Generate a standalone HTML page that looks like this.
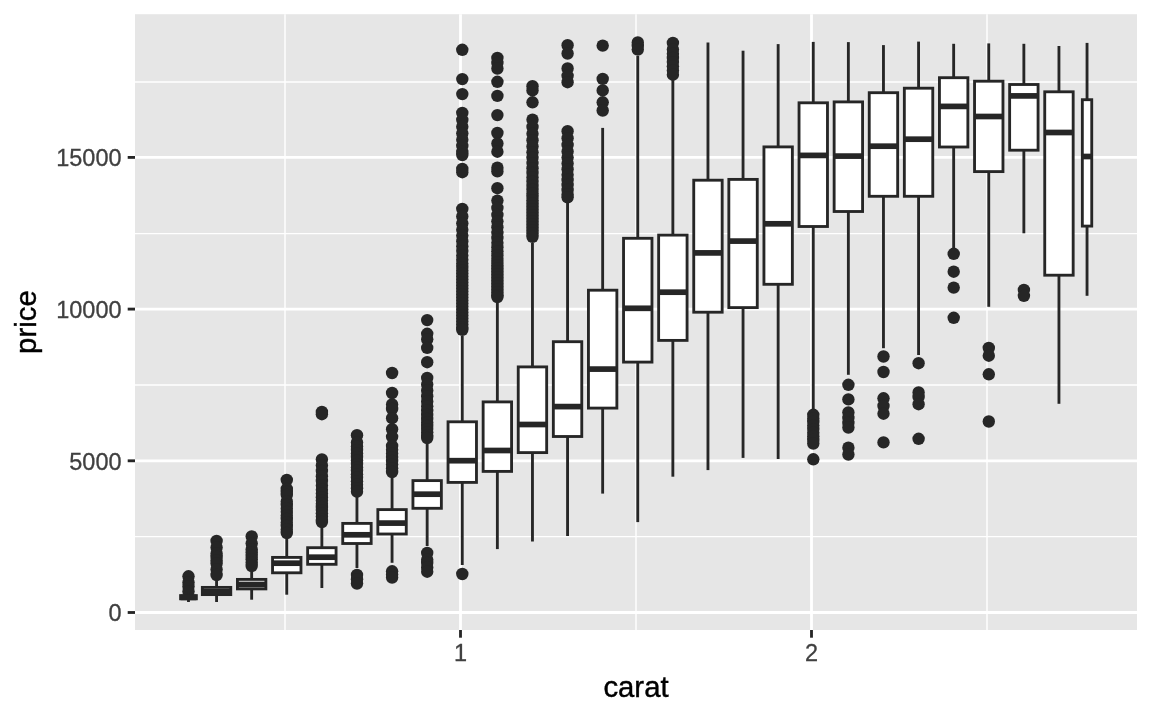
<!DOCTYPE html>
<html lang="en"><head><meta charset="utf-8"><title>price vs carat boxplot</title>
<style>html,body{margin:0;padding:0;background:#fff}body{width:1152px;height:711px;overflow:hidden}svg{display:block}text{font-family:"Liberation Sans",Arial,Helvetica,sans-serif}</style></head><body>
<svg width="1152" height="711" viewBox="0 0 1152 711">
<rect x="0" y="0" width="1152" height="711" fill="#ffffff"/>
<rect x="135.0" y="14.2" width="1002.0" height="615.8" fill="#E6E6E6"/>
<g stroke="#ffffff" stroke-width="1.42" fill="none">
<line x1="135.0" x2="1137.0" y1="536.65" y2="536.65"/>
<line x1="135.0" x2="1137.0" y1="384.95" y2="384.95"/>
<line x1="135.0" x2="1137.0" y1="233.60" y2="233.60"/>
<line x1="135.0" x2="1137.0" y1="81.95" y2="81.95"/>
<line y1="14.2" y2="630.0" x1="285.00" x2="285.00"/>
<line y1="14.2" y2="630.0" x1="636.00" x2="636.00"/>
<line y1="14.2" y2="630.0" x1="987.00" x2="987.00"/>
</g>
<g stroke="#ffffff" stroke-width="2.85" fill="none">
<line x1="135.0" x2="1137.0" y1="612.50" y2="612.50"/>
<line x1="135.0" x2="1137.0" y1="460.80" y2="460.80"/>
<line x1="135.0" x2="1137.0" y1="309.10" y2="309.10"/>
<line x1="135.0" x2="1137.0" y1="157.40" y2="157.40"/>
<line y1="14.2" y2="630.0" x1="460.50" x2="460.50"/>
<line y1="14.2" y2="630.0" x1="811.50" x2="811.50"/>
</g>
<g id="boxes" stroke="#262626" stroke-width="2.85" fill="#ffffff">
<g><g fill="#262626" stroke="none"><circle cx="188.5" cy="576.3" r="6.2"/><circle cx="188.5" cy="582.5" r="6.2"/><circle cx="188.5" cy="586.5" r="6.2"/><circle cx="188.5" cy="591.5" r="6.2"/></g><line x1="188.48" x2="188.48" y1="595.6" y2="592.0"/><line x1="188.48" x2="188.48" y1="598.8" y2="602.0"/><rect x="180.58" y="595.6" width="15.79" height="3.2"/><line x1="180.58" x2="196.37" y1="597.4" y2="597.4" stroke-width="5.7"/></g>
<g><g fill="#262626" stroke="none"><circle cx="216.6" cy="541.0" r="6.2"/><circle cx="216.6" cy="547.5" r="6.2"/><circle cx="216.6" cy="553.5" r="6.2"/><circle cx="216.6" cy="557.0" r="6.2"/><circle cx="216.6" cy="560.5" r="6.2"/><circle cx="216.6" cy="563.5" r="6.2"/><circle cx="216.6" cy="569.5" r="6.2"/><circle cx="216.6" cy="575.0" r="6.2"/></g><line x1="216.56" x2="216.56" y1="587.4" y2="581.0"/><line x1="216.56" x2="216.56" y1="594.6" y2="602.0"/><rect x="202.34" y="587.4" width="28.43" height="7.2"/><line x1="202.34" x2="230.77" y1="591.8" y2="591.8" stroke-width="5.7"/></g>
<g><g fill="#262626" stroke="none"><circle cx="251.7" cy="536.4" r="6.2"/><circle cx="251.7" cy="543.5" r="6.2"/><circle cx="251.7" cy="549.5" r="6.2"/><circle cx="251.7" cy="552.5" r="6.2"/><circle cx="251.7" cy="555.9" r="6.2"/><circle cx="251.7" cy="559.2" r="6.2"/><circle cx="251.7" cy="562.6" r="6.2"/><circle cx="251.7" cy="566.0" r="6.2"/></g><line x1="251.66" x2="251.66" y1="579.4" y2="572.0"/><line x1="251.66" x2="251.66" y1="588.9" y2="599.7"/><rect x="237.44" y="579.4" width="28.43" height="9.5"/><line x1="237.44" x2="265.87" y1="584.5" y2="584.5" stroke-width="5.7"/></g>
<g><g fill="#262626" stroke="none"><circle cx="286.8" cy="480.0" r="6.2"/><circle cx="286.8" cy="489.0" r="6.2"/><circle cx="286.8" cy="492.0" r="6.2"/><circle cx="286.8" cy="495.0" r="6.2"/><circle cx="286.8" cy="501.5" r="6.2"/><circle cx="286.8" cy="505.0" r="6.2"/><circle cx="286.8" cy="508.5" r="6.2"/><circle cx="286.8" cy="512.0" r="6.2"/><circle cx="286.8" cy="515.5" r="6.2"/><circle cx="286.8" cy="519.0" r="6.2"/><circle cx="286.8" cy="522.5" r="6.2"/><circle cx="286.8" cy="526.0" r="6.2"/><circle cx="286.8" cy="529.5" r="6.2"/><circle cx="286.8" cy="533.0" r="6.2"/></g><line x1="286.75" x2="286.75" y1="557.4" y2="539.0"/><line x1="286.75" x2="286.75" y1="572.8" y2="594.7"/><rect x="272.54" y="557.4" width="28.43" height="15.4"/><line x1="272.54" x2="300.97" y1="563.2" y2="563.2" stroke-width="5.7"/></g>
<g><g fill="#262626" stroke="none"><circle cx="321.9" cy="412.0" r="6.2"/><circle cx="321.9" cy="414.2" r="6.2"/><circle cx="321.9" cy="459.4" r="6.2"/><circle cx="321.9" cy="465.4" r="6.2"/><circle cx="321.9" cy="471.0" r="6.2"/><circle cx="321.9" cy="476.2" r="6.2"/><circle cx="321.9" cy="481.0" r="6.2"/><circle cx="321.9" cy="485.5" r="6.2"/><circle cx="321.9" cy="489.7" r="6.2"/><circle cx="321.9" cy="493.5" r="6.2"/><circle cx="321.9" cy="497.2" r="6.2"/><circle cx="321.9" cy="500.5" r="6.2"/><circle cx="321.9" cy="503.7" r="6.2"/><circle cx="321.9" cy="506.9" r="6.2"/><circle cx="321.9" cy="510.1" r="6.2"/><circle cx="321.9" cy="513.3" r="6.2"/><circle cx="321.9" cy="516.5" r="6.2"/><circle cx="321.9" cy="519.7" r="6.2"/><circle cx="321.9" cy="522.0" r="6.2"/></g><line x1="321.86" x2="321.86" y1="547.7" y2="528.0"/><line x1="321.86" x2="321.86" y1="564.3" y2="588.0"/><rect x="307.64" y="547.7" width="28.43" height="16.6"/><line x1="307.64" x2="336.07" y1="557.2" y2="557.2" stroke-width="5.7"/></g>
<g><g fill="#262626" stroke="none"><circle cx="357.0" cy="435.2" r="6.2"/><circle cx="357.0" cy="442.5" r="6.2"/><circle cx="357.0" cy="446.5" r="6.2"/><circle cx="357.0" cy="450.0" r="6.2"/><circle cx="357.0" cy="453.5" r="6.2"/><circle cx="357.0" cy="456.9" r="6.2"/><circle cx="357.0" cy="460.4" r="6.2"/><circle cx="357.0" cy="463.9" r="6.2"/><circle cx="357.0" cy="467.4" r="6.2"/><circle cx="357.0" cy="470.8" r="6.2"/><circle cx="357.0" cy="474.3" r="6.2"/><circle cx="357.0" cy="477.8" r="6.2"/><circle cx="357.0" cy="481.3" r="6.2"/><circle cx="357.0" cy="484.7" r="6.2"/><circle cx="357.0" cy="488.2" r="6.2"/><circle cx="357.0" cy="491.7" r="6.2"/><circle cx="357.0" cy="575.0" r="6.2"/><circle cx="357.0" cy="579.2" r="6.2"/><circle cx="357.0" cy="583.5" r="6.2"/></g><line x1="356.95" x2="356.95" y1="523.4" y2="497.0"/><line x1="356.95" x2="356.95" y1="543.5" y2="568.0"/><rect x="342.74" y="523.4" width="28.43" height="20.1"/><line x1="342.74" x2="371.17" y1="534.8" y2="534.8" stroke-width="5.7"/></g>
<g><g fill="#262626" stroke="none"><circle cx="392.1" cy="373.0" r="6.2"/><circle cx="392.1" cy="393.0" r="6.2"/><circle cx="392.1" cy="404.5" r="6.2"/><circle cx="392.1" cy="409.0" r="6.2"/><circle cx="392.1" cy="418.2" r="6.2"/><circle cx="392.1" cy="429.2" r="6.2"/><circle cx="392.1" cy="436.8" r="6.2"/><circle cx="392.1" cy="446.0" r="6.2"/><circle cx="392.1" cy="449.7" r="6.2"/><circle cx="392.1" cy="453.4" r="6.2"/><circle cx="392.1" cy="457.1" r="6.2"/><circle cx="392.1" cy="460.9" r="6.2"/><circle cx="392.1" cy="464.6" r="6.2"/><circle cx="392.1" cy="468.3" r="6.2"/><circle cx="392.1" cy="472.0" r="6.2"/><circle cx="392.1" cy="571.3" r="6.2"/><circle cx="392.1" cy="574.4" r="6.2"/><circle cx="392.1" cy="577.5" r="6.2"/></g><line x1="392.06" x2="392.06" y1="509.6" y2="478.0"/><line x1="392.06" x2="392.06" y1="534.0" y2="562.8"/><rect x="377.84" y="509.6" width="28.43" height="24.4"/><line x1="377.84" x2="406.27" y1="523.1" y2="523.1" stroke-width="5.7"/></g>
<g><g fill="#262626" stroke="none"><circle cx="427.2" cy="320.1" r="6.2"/><circle cx="427.2" cy="333.8" r="6.2"/><circle cx="427.2" cy="339.3" r="6.2"/><circle cx="427.2" cy="347.9" r="6.2"/><circle cx="427.2" cy="362.2" r="6.2"/><circle cx="427.2" cy="378.0" r="6.2"/><circle cx="427.2" cy="384.5" r="6.2"/><circle cx="427.2" cy="390.5" r="6.2"/><circle cx="427.2" cy="396.2" r="6.2"/><circle cx="427.2" cy="401.4" r="6.2"/><circle cx="427.2" cy="406.3" r="6.2"/><circle cx="427.2" cy="410.8" r="6.2"/><circle cx="427.2" cy="415.0" r="6.2"/><circle cx="427.2" cy="418.9" r="6.2"/><circle cx="427.2" cy="422.5" r="6.2"/><circle cx="427.2" cy="425.9" r="6.2"/><circle cx="427.2" cy="429.1" r="6.2"/><circle cx="427.2" cy="432.3" r="6.2"/><circle cx="427.2" cy="435.5" r="6.2"/><circle cx="427.2" cy="438.0" r="6.2"/><circle cx="427.2" cy="553.0" r="6.2"/><circle cx="427.2" cy="559.6" r="6.2"/><circle cx="427.2" cy="563.0" r="6.2"/><circle cx="427.2" cy="567.5" r="6.2"/><circle cx="427.2" cy="571.7" r="6.2"/></g><line x1="427.16" x2="427.16" y1="480.6" y2="444.0"/><line x1="427.16" x2="427.16" y1="508.3" y2="546.0"/><rect x="412.94" y="480.6" width="28.43" height="27.7"/><line x1="412.94" x2="441.37" y1="494.2" y2="494.2" stroke-width="5.7"/></g>
<g><g fill="#262626" stroke="none"><circle cx="462.3" cy="49.8" r="6.2"/><circle cx="462.3" cy="79.1" r="6.2"/><circle cx="462.3" cy="94.1" r="6.2"/><circle cx="462.3" cy="112.9" r="6.2"/><circle cx="462.3" cy="119.9" r="6.2"/><circle cx="462.3" cy="126.7" r="6.2"/><circle cx="462.3" cy="133.3" r="6.2"/><circle cx="462.3" cy="139.7" r="6.2"/><circle cx="462.3" cy="145.9" r="6.2"/><circle cx="462.3" cy="151.9" r="6.2"/><circle cx="462.3" cy="155.0" r="6.2"/><circle cx="462.3" cy="169.0" r="6.2"/><circle cx="462.3" cy="172.2" r="6.2"/><circle cx="462.3" cy="209.0" r="6.2"/><circle cx="462.3" cy="216.4" r="6.2"/><circle cx="462.3" cy="223.3" r="6.2"/><circle cx="462.3" cy="229.7" r="6.2"/><circle cx="462.3" cy="235.6" r="6.2"/><circle cx="462.3" cy="241.2" r="6.2"/><circle cx="462.3" cy="246.3" r="6.2"/><circle cx="462.3" cy="251.1" r="6.2"/><circle cx="462.3" cy="255.6" r="6.2"/><circle cx="462.3" cy="259.7" r="6.2"/><circle cx="462.3" cy="263.6" r="6.2"/><circle cx="462.3" cy="267.1" r="6.2"/><circle cx="462.3" cy="270.5" r="6.2"/><circle cx="462.3" cy="273.6" r="6.2"/><circle cx="462.3" cy="276.6" r="6.2"/><circle cx="462.3" cy="279.6" r="6.2"/><circle cx="462.3" cy="282.6" r="6.2"/><circle cx="462.3" cy="285.6" r="6.2"/><circle cx="462.3" cy="288.6" r="6.2"/><circle cx="462.3" cy="291.6" r="6.2"/><circle cx="462.3" cy="294.6" r="6.2"/><circle cx="462.3" cy="297.6" r="6.2"/><circle cx="462.3" cy="300.6" r="6.2"/><circle cx="462.3" cy="303.6" r="6.2"/><circle cx="462.3" cy="306.6" r="6.2"/><circle cx="462.3" cy="309.6" r="6.2"/><circle cx="462.3" cy="312.6" r="6.2"/><circle cx="462.3" cy="315.6" r="6.2"/><circle cx="462.3" cy="318.6" r="6.2"/><circle cx="462.3" cy="321.6" r="6.2"/><circle cx="462.3" cy="324.6" r="6.2"/><circle cx="462.3" cy="327.6" r="6.2"/><circle cx="462.3" cy="329.8" r="6.2"/><circle cx="462.3" cy="574.0" r="6.2"/></g><line x1="462.25" x2="462.25" y1="421.8" y2="336.0"/><line x1="462.25" x2="462.25" y1="482.4" y2="565.0"/><rect x="448.04" y="421.8" width="28.43" height="60.6"/><line x1="448.04" x2="476.47" y1="460.7" y2="460.7" stroke-width="5.7"/></g>
<g><g fill="#262626" stroke="none"><circle cx="497.4" cy="58.0" r="6.2"/><circle cx="497.4" cy="63.0" r="6.2"/><circle cx="497.4" cy="68.5" r="6.2"/><circle cx="497.4" cy="81.8" r="6.2"/><circle cx="497.4" cy="95.9" r="6.2"/><circle cx="497.4" cy="115.1" r="6.2"/><circle cx="497.4" cy="133.0" r="6.2"/><circle cx="497.4" cy="143.5" r="6.2"/><circle cx="497.4" cy="151.7" r="6.2"/><circle cx="497.4" cy="167.7" r="6.2"/><circle cx="497.4" cy="171.4" r="6.2"/><circle cx="497.4" cy="188.2" r="6.2"/><circle cx="497.4" cy="200.6" r="6.2"/><circle cx="497.4" cy="208.0" r="6.2"/><circle cx="497.4" cy="214.9" r="6.2"/><circle cx="497.4" cy="221.3" r="6.2"/><circle cx="497.4" cy="227.2" r="6.2"/><circle cx="497.4" cy="232.8" r="6.2"/><circle cx="497.4" cy="237.9" r="6.2"/><circle cx="497.4" cy="242.7" r="6.2"/><circle cx="497.4" cy="247.2" r="6.2"/><circle cx="497.4" cy="251.3" r="6.2"/><circle cx="497.4" cy="255.2" r="6.2"/><circle cx="497.4" cy="258.7" r="6.2"/><circle cx="497.4" cy="262.1" r="6.2"/><circle cx="497.4" cy="265.2" r="6.2"/><circle cx="497.4" cy="268.2" r="6.2"/><circle cx="497.4" cy="271.2" r="6.2"/><circle cx="497.4" cy="274.2" r="6.2"/><circle cx="497.4" cy="277.2" r="6.2"/><circle cx="497.4" cy="280.2" r="6.2"/><circle cx="497.4" cy="283.2" r="6.2"/><circle cx="497.4" cy="286.2" r="6.2"/><circle cx="497.4" cy="289.2" r="6.2"/><circle cx="497.4" cy="292.2" r="6.2"/><circle cx="497.4" cy="295.2" r="6.2"/><circle cx="497.4" cy="297.0" r="6.2"/></g><line x1="497.36" x2="497.36" y1="401.9" y2="303.0"/><line x1="497.36" x2="497.36" y1="471.4" y2="549.1"/><rect x="483.14" y="401.9" width="28.43" height="69.5"/><line x1="483.14" x2="511.57" y1="450.5" y2="450.5" stroke-width="5.7"/></g>
<g><g fill="#262626" stroke="none"><circle cx="532.5" cy="86.2" r="6.2"/><circle cx="532.5" cy="90.4" r="6.2"/><circle cx="532.5" cy="102.3" r="6.2"/><circle cx="532.5" cy="119.7" r="6.2"/><circle cx="532.5" cy="126.9" r="6.2"/><circle cx="532.5" cy="133.7" r="6.2"/><circle cx="532.5" cy="140.2" r="6.2"/><circle cx="532.5" cy="146.4" r="6.2"/><circle cx="532.5" cy="152.3" r="6.2"/><circle cx="532.5" cy="157.8" r="6.2"/><circle cx="532.5" cy="163.1" r="6.2"/><circle cx="532.5" cy="168.2" r="6.2"/><circle cx="532.5" cy="172.9" r="6.2"/><circle cx="532.5" cy="177.5" r="6.2"/><circle cx="532.5" cy="181.8" r="6.2"/><circle cx="532.5" cy="185.9" r="6.2"/><circle cx="532.5" cy="189.8" r="6.2"/><circle cx="532.5" cy="193.5" r="6.2"/><circle cx="532.5" cy="197.0" r="6.2"/><circle cx="532.5" cy="200.3" r="6.2"/><circle cx="532.5" cy="203.5" r="6.2"/><circle cx="532.5" cy="206.5" r="6.2"/><circle cx="532.5" cy="209.5" r="6.2"/><circle cx="532.5" cy="212.5" r="6.2"/><circle cx="532.5" cy="215.5" r="6.2"/><circle cx="532.5" cy="218.5" r="6.2"/><circle cx="532.5" cy="221.5" r="6.2"/><circle cx="532.5" cy="224.5" r="6.2"/><circle cx="532.5" cy="227.5" r="6.2"/><circle cx="532.5" cy="230.5" r="6.2"/><circle cx="532.5" cy="233.5" r="6.2"/><circle cx="532.5" cy="236.8" r="6.2"/></g><line x1="532.46" x2="532.46" y1="366.9" y2="243.0"/><line x1="532.46" x2="532.46" y1="452.6" y2="541.5"/><rect x="518.24" y="366.9" width="28.43" height="85.7"/><line x1="518.24" x2="546.67" y1="424.5" y2="424.5" stroke-width="5.7"/></g>
<g><g fill="#262626" stroke="none"><circle cx="567.6" cy="45.2" r="6.2"/><circle cx="567.6" cy="53.5" r="6.2"/><circle cx="567.6" cy="68.5" r="6.2"/><circle cx="567.6" cy="75.8" r="6.2"/><circle cx="567.6" cy="82.2" r="6.2"/><circle cx="567.6" cy="131.2" r="6.2"/><circle cx="567.6" cy="138.2" r="6.2"/><circle cx="567.6" cy="144.9" r="6.2"/><circle cx="567.6" cy="151.4" r="6.2"/><circle cx="567.6" cy="157.6" r="6.2"/><circle cx="567.6" cy="163.5" r="6.2"/><circle cx="567.6" cy="169.2" r="6.2"/><circle cx="567.6" cy="174.7" r="6.2"/><circle cx="567.6" cy="180.0" r="6.2"/><circle cx="567.6" cy="185.0" r="6.2"/><circle cx="567.6" cy="189.9" r="6.2"/><circle cx="567.6" cy="194.5" r="6.2"/><circle cx="567.6" cy="197.3" r="6.2"/></g><line x1="567.55" x2="567.55" y1="341.7" y2="203.0"/><line x1="567.55" x2="567.55" y1="436.5" y2="536.0"/><rect x="553.34" y="341.7" width="28.43" height="94.8"/><line x1="553.34" x2="581.77" y1="406.6" y2="406.6" stroke-width="5.7"/></g>
<g><g fill="#262626" stroke="none"><circle cx="602.7" cy="45.6" r="6.2"/><circle cx="602.7" cy="78.9" r="6.2"/><circle cx="602.7" cy="90.4" r="6.2"/><circle cx="602.7" cy="102.3" r="6.2"/><circle cx="602.7" cy="110.5" r="6.2"/></g><line x1="602.65" x2="602.65" y1="290.2" y2="127.9"/><line x1="602.65" x2="602.65" y1="408.1" y2="493.6"/><rect x="588.44" y="290.2" width="28.43" height="117.9"/><line x1="588.44" x2="616.87" y1="369.1" y2="369.1" stroke-width="5.7"/></g>
<g><g fill="#262626" stroke="none"><circle cx="637.8" cy="42.5" r="6.2"/><circle cx="637.8" cy="46.0" r="6.2"/><circle cx="637.8" cy="49.6" r="6.2"/></g><line x1="637.75" x2="637.75" y1="238.3" y2="56.0"/><line x1="637.75" x2="637.75" y1="362.1" y2="522.1"/><rect x="623.54" y="238.3" width="28.43" height="123.8"/><line x1="623.54" x2="651.97" y1="308.3" y2="308.3" stroke-width="5.7"/></g>
<g><g fill="#262626" stroke="none"><circle cx="672.9" cy="43.0" r="6.2"/><circle cx="672.9" cy="49.5" r="6.2"/><circle cx="672.9" cy="53.7" r="6.2"/><circle cx="672.9" cy="57.9" r="6.2"/><circle cx="672.9" cy="62.1" r="6.2"/><circle cx="672.9" cy="66.3" r="6.2"/><circle cx="672.9" cy="70.5" r="6.2"/><circle cx="672.9" cy="74.7" r="6.2"/></g><line x1="672.86" x2="672.86" y1="235.1" y2="80.0"/><line x1="672.86" x2="672.86" y1="340.4" y2="476.7"/><rect x="658.64" y="235.1" width="28.43" height="105.3"/><line x1="658.64" x2="687.07" y1="292.2" y2="292.2" stroke-width="5.7"/></g>
<g><line x1="707.96" x2="707.96" y1="180.2" y2="42.5"/><line x1="707.96" x2="707.96" y1="312.2" y2="470.1"/><rect x="693.74" y="180.2" width="28.43" height="132.0"/><line x1="693.74" x2="722.17" y1="252.9" y2="252.9" stroke-width="5.7"/></g>
<g><line x1="743.05" x2="743.05" y1="179.4" y2="50.7"/><line x1="743.05" x2="743.05" y1="307.6" y2="457.9"/><rect x="728.84" y="179.4" width="28.43" height="128.2"/><line x1="728.84" x2="757.27" y1="241.1" y2="241.1" stroke-width="5.7"/></g>
<g><line x1="778.15" x2="778.15" y1="146.9" y2="44.1"/><line x1="778.15" x2="778.15" y1="284.3" y2="459.0"/><rect x="763.94" y="146.9" width="28.43" height="137.4"/><line x1="763.94" x2="792.37" y1="223.8" y2="223.8" stroke-width="5.7"/></g>
<g><g fill="#262626" stroke="none"><circle cx="813.3" cy="414.8" r="6.2"/><circle cx="813.3" cy="418.4" r="6.2"/><circle cx="813.3" cy="422.0" r="6.2"/><circle cx="813.3" cy="425.6" r="6.2"/><circle cx="813.3" cy="429.1" r="6.2"/><circle cx="813.3" cy="432.7" r="6.2"/><circle cx="813.3" cy="436.3" r="6.2"/><circle cx="813.3" cy="439.9" r="6.2"/><circle cx="813.3" cy="443.5" r="6.2"/><circle cx="813.3" cy="459.3" r="6.2"/></g><line x1="813.25" x2="813.25" y1="102.8" y2="41.9"/><line x1="813.25" x2="813.25" y1="226.5" y2="409.0"/><rect x="799.04" y="102.8" width="28.43" height="123.7"/><line x1="799.04" x2="827.47" y1="155.4" y2="155.4" stroke-width="5.7"/></g>
<g><g fill="#262626" stroke="none"><circle cx="848.4" cy="384.8" r="6.2"/><circle cx="848.4" cy="399.4" r="6.2"/><circle cx="848.4" cy="412.4" r="6.2"/><circle cx="848.4" cy="418.0" r="6.2"/><circle cx="848.4" cy="423.0" r="6.2"/><circle cx="848.4" cy="427.5" r="6.2"/><circle cx="848.4" cy="447.7" r="6.2"/><circle cx="848.4" cy="454.5" r="6.2"/></g><line x1="848.36" x2="848.36" y1="101.9" y2="42.1"/><line x1="848.36" x2="848.36" y1="211.5" y2="374.8"/><rect x="834.14" y="101.9" width="28.43" height="109.6"/><line x1="834.14" x2="862.57" y1="156.1" y2="156.1" stroke-width="5.7"/></g>
<g><g fill="#262626" stroke="none"><circle cx="883.5" cy="356.5" r="6.2"/><circle cx="883.5" cy="372.0" r="6.2"/><circle cx="883.5" cy="398.3" r="6.2"/><circle cx="883.5" cy="406.0" r="6.2"/><circle cx="883.5" cy="413.7" r="6.2"/><circle cx="883.5" cy="442.4" r="6.2"/></g><line x1="883.46" x2="883.46" y1="92.7" y2="45.1"/><line x1="883.46" x2="883.46" y1="196.3" y2="348.2"/><rect x="869.24" y="92.7" width="28.43" height="103.6"/><line x1="869.24" x2="897.67" y1="146.2" y2="146.2" stroke-width="5.7"/></g>
<g><g fill="#262626" stroke="none"><circle cx="918.6" cy="363.2" r="6.2"/><circle cx="918.6" cy="392.5" r="6.2"/><circle cx="918.6" cy="397.0" r="6.2"/><circle cx="918.6" cy="404.2" r="6.2"/><circle cx="918.6" cy="438.8" r="6.2"/></g><line x1="918.56" x2="918.56" y1="88.2" y2="41.6"/><line x1="918.56" x2="918.56" y1="196.3" y2="355.0"/><rect x="904.34" y="88.2" width="28.43" height="108.1"/><line x1="904.34" x2="932.77" y1="139.2" y2="139.2" stroke-width="5.7"/></g>
<g><g fill="#262626" stroke="none"><circle cx="953.7" cy="253.8" r="6.2"/><circle cx="953.7" cy="271.7" r="6.2"/><circle cx="953.7" cy="287.6" r="6.2"/><circle cx="953.7" cy="317.8" r="6.2"/></g><line x1="953.65" x2="953.65" y1="77.7" y2="43.8"/><line x1="953.65" x2="953.65" y1="147.0" y2="248.3"/><rect x="939.44" y="77.7" width="28.43" height="69.3"/><line x1="939.44" x2="967.87" y1="106.4" y2="106.4" stroke-width="5.7"/></g>
<g><g fill="#262626" stroke="none"><circle cx="988.8" cy="348.0" r="6.2"/><circle cx="988.8" cy="355.7" r="6.2"/><circle cx="988.8" cy="374.3" r="6.2"/><circle cx="988.8" cy="421.5" r="6.2"/></g><line x1="988.75" x2="988.75" y1="81.2" y2="43.4"/><line x1="988.75" x2="988.75" y1="171.6" y2="306.8"/><rect x="974.54" y="81.2" width="28.43" height="90.4"/><line x1="974.54" x2="1002.97" y1="116.5" y2="116.5" stroke-width="5.7"/></g>
<g><g fill="#262626" stroke="none"><circle cx="1023.9" cy="290.0" r="6.2"/><circle cx="1023.9" cy="295.8" r="6.2"/></g><line x1="1023.86" x2="1023.86" y1="84.5" y2="43.8"/><line x1="1023.86" x2="1023.86" y1="150.2" y2="233.3"/><rect x="1009.64" y="84.5" width="28.43" height="65.7"/><line x1="1009.64" x2="1038.07" y1="95.9" y2="95.9" stroke-width="5.7"/></g>
<g><line x1="1058.95" x2="1058.95" y1="91.8" y2="46.0"/><line x1="1058.95" x2="1058.95" y1="275.2" y2="403.8"/><rect x="1044.74" y="91.8" width="28.43" height="183.4"/><line x1="1044.74" x2="1073.17" y1="132.5" y2="132.5" stroke-width="5.7"/></g>
<g><line x1="1087.04" x2="1087.04" y1="99.7" y2="42.9"/><line x1="1087.04" x2="1087.04" y1="226.1" y2="295.8"/><rect x="1082.34" y="99.7" width="9.40" height="126.4"/><line x1="1082.34" x2="1091.74" y1="156.5" y2="156.5" stroke-width="5.7"/></g>
</g>
<g stroke="#262626" stroke-width="2.85">
<line x1="127.7" x2="135.0" y1="612.50" y2="612.50"/>
<line x1="127.7" x2="135.0" y1="460.80" y2="460.80"/>
<line x1="127.7" x2="135.0" y1="309.10" y2="309.10"/>
<line x1="127.7" x2="135.0" y1="157.40" y2="157.40"/>
<line y1="630.0" y2="637.7" x1="460.50" x2="460.50"/>
<line y1="630.0" y2="637.7" x1="811.50" x2="811.50"/>
</g>
<g fill="#404040" stroke="#404040" stroke-width="0.3" font-size="23.47px">
<text x="121.5" y="621.3" text-anchor="end">0</text>
<text x="121.5" y="469.6" text-anchor="end">5000</text>
<text x="121.5" y="317.9" text-anchor="end">10000</text>
<text x="121.5" y="166.2" text-anchor="end">15000</text>
<text x="460.5" y="661" text-anchor="middle">1</text>
<text x="811.5" y="661" text-anchor="middle">2</text>
</g>
<g fill="#000000" stroke="#000000" stroke-width="0.4" font-size="29.33px">
<text x="636.0" y="696.6" text-anchor="middle">carat</text>
<text transform="translate(35.6,322.1) rotate(-90)" text-anchor="middle">price</text>
</g>
</svg></body></html>
